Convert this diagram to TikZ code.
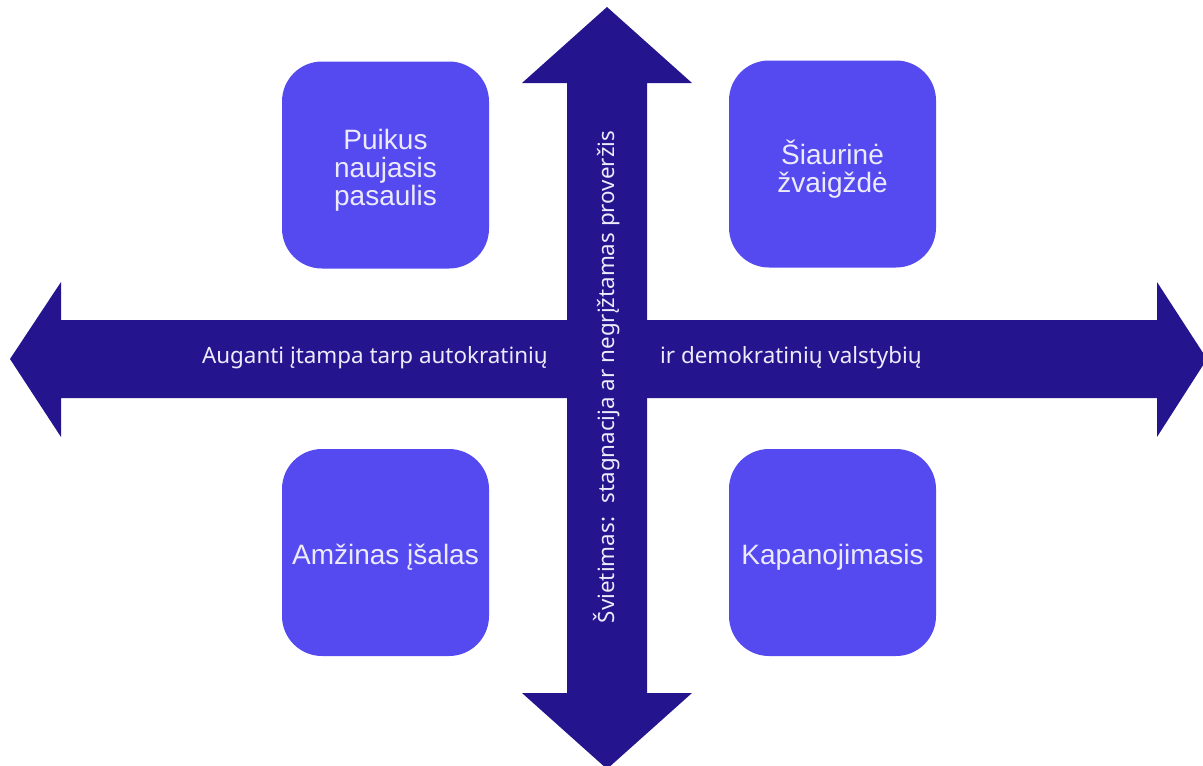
\documentclass[tikz,border=0pt]{standalone}
\usepackage{fontspec}
\setmainfont{Liberation Sans}
\newfontfamily\axisfont{Noto Sans}
\usetikzlibrary{positioning}
\definecolor{boxblue}{HTML}{544AF0}
\definecolor{axisblue}{HTML}{24148E}
\definecolor{paletext}{HTML}{ECEAFB}

\begin{document}
\begin{tikzpicture}[x=1pt,y=-1pt,
   scenario/.style={fill=boxblue, rounded corners=40pt, minimum width=207pt, minimum height=207pt, inner sep=0pt},
   scenariotext/.style={inner sep=0pt, yshift=-5pt, text=paletext, align=center, font=\fontsize{28}{28}\selectfont},
   axislabel/.style={inner sep=0pt, text=paletext, font=\axisfont\fontsize{22.4}{25}\selectfont}
]
\useasboundingbox (0,0) rectangle (1203,766);

\fill[axisblue] (10,359) -- (61,282) -- (61,320) -- (1157,320) -- (1157,282) -- (1207,359)
   -- (1157,437) -- (1157,398) -- (61,398) -- (61,437) -- cycle;
\fill[axisblue] (607,7) -- (692,83) -- (647,83) -- (647,693) -- (692,693) -- (607,769)
   -- (522,693) -- (567,693) -- (567,83) -- (522,83) -- cycle;

\node[scenario] (puikus) at (385.5,165) {};
\node[scenario] (siaurine) at (832.5,164) {};
\node[scenario] (amzinas) at (385.5,552.5) {};
\node[scenario] (kapanojimasis) at (832.5,552.5) {};
\node[scenariotext] at (puikus) {Puikus\\naujasis\\pasaulis};
\node[scenariotext] at (siaurine) {Šiaurinė\\žvaigždė};
\node[scenariotext] at (amzinas) {Amžinas įšalas};
\node[scenariotext] at (kapanojimasis) {Kapanojimasis};

\node[axislabel, anchor=east] (autokr) at (548,358) {Auganti įtampa tarp autokratinių};
\node[axislabel, anchor=west] (demokr) at (660,358) {ir demokratinių valstybių};
\node[axislabel, rotate=90] (svietimas) at (607,377) {Švietimas:~ stagnacija ar negrįžtamas proveržis};
\end{tikzpicture}
\end{document}
